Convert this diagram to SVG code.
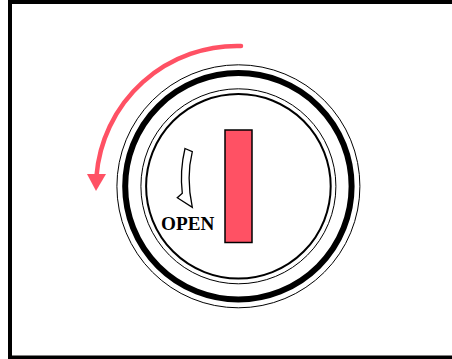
<svg xmlns="http://www.w3.org/2000/svg" width="452" height="359" viewBox="0 0 452 359">
<style>
.ring{fill:none;stroke:#000}
.red{fill:#ff5164}
text{font-family:"Liberation Serif",serif;font-weight:700;font-size:19.200px;fill:#000}
</style>
<rect width="452" height="359" fill="#fff"/>
<g id="frame"><path d="M10 359V2H452M10 357.500H452" fill="none" stroke="#000" stroke-width="4"/></g>
<g id="lock">
<circle class="ring" cx="238.400" cy="186.300" r="121.500" stroke-width="1"/>
<circle class="ring" cx="238.400" cy="186.300" r="113.200" stroke-width="6"/>
<circle class="ring" cx="238.400" cy="186.300" r="97.500" stroke-width="1"/>
<circle class="ring" cx="238.400" cy="186.300" r="92.300" stroke-width="2"/>
</g>
<g id="slot"><rect class="red" x="225" y="130" width="27" height="112.500" stroke="#000" stroke-width="1.500"/></g>
<g id="open-mark">
<path d="M185 148.500L192.300 151.700C188.500 167 187.500 185 192.300 207.300L177.300 197.700L182.300 193.300C180.500 178 181.500 163 185 148.500Z" fill="#fff" stroke="#000" stroke-width="1.300"/>
<text x="161" y="230">OPEN</text>
</g>
<g id="connectors">
<path d="M241 46A141 141 0 0 0 96.500 176" fill="none" stroke="#ff5164" stroke-width="4.500" stroke-linecap="round"/>
<path class="red" d="M87 174H106L96 191Z"/>
</g>
</svg>
